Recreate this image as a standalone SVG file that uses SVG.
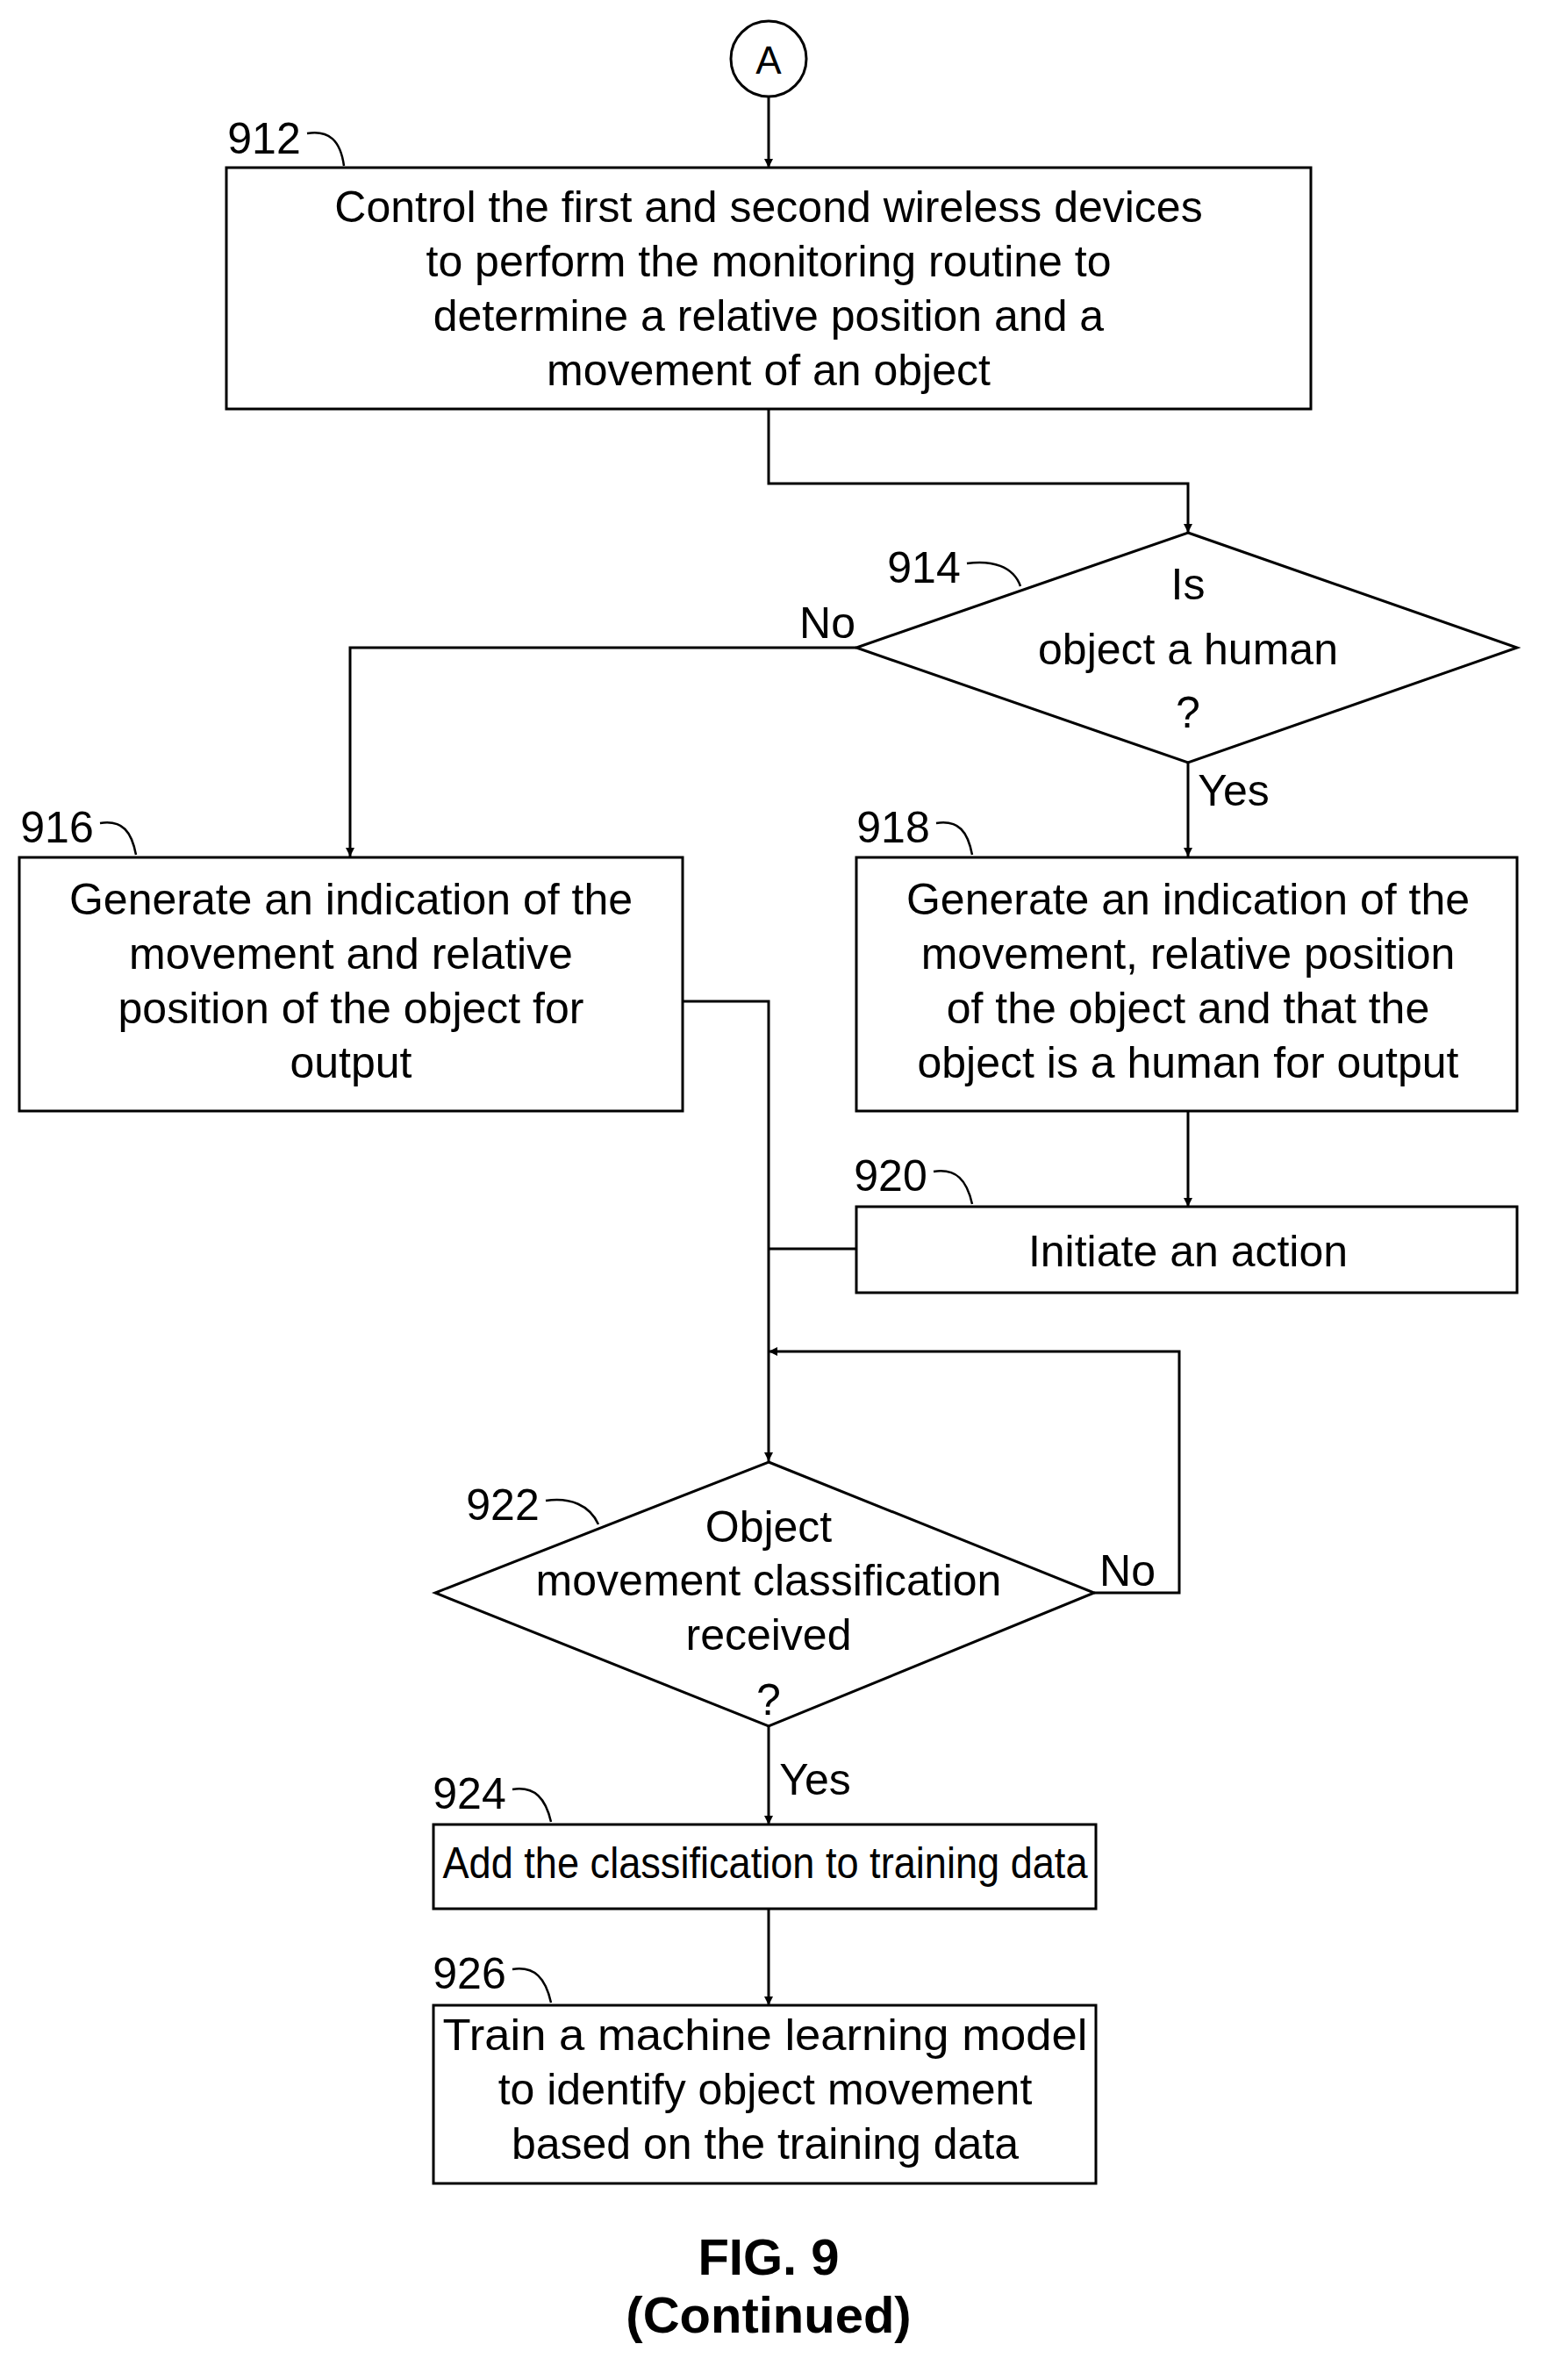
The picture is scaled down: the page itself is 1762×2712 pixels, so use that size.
<svg xmlns="http://www.w3.org/2000/svg" width="1762" height="2712" viewBox="0 0 1762 2712">
<defs>
<marker id="ah" viewBox="0 0 10 10" refX="10" refY="5" markerWidth="10" markerHeight="10" markerUnits="userSpaceOnUse" orient="auto"><path d="M0,0 L10,5 L0,10 z" fill="#000"/></marker>
<style>
.s{fill:#fff;stroke:#000;stroke-width:3}
.c{fill:none;stroke:#000;stroke-width:3}
.l{fill:none;stroke:#000;stroke-width:2.5}
text{font-family:"Liberation Sans",Arial,sans-serif;font-size:50px;fill:#000}
.m{text-anchor:middle}
.f{font-weight:bold;font-size:58px;text-anchor:middle}
</style>
</defs>
<rect width="1762" height="2712" fill="#fff"/>
<g id="connectors">
<path class="c" d="M876,110 V191" marker-end="url(#ah)"/>
<path class="c" d="M876,466 V551 H1354 V607" marker-end="url(#ah)"/>
<path class="c" d="M976,738 H399 V976" marker-end="url(#ah)"/>
<path class="c" d="M1354,869 V976" marker-end="url(#ah)"/>
<path class="c" d="M1354,1266 V1375" marker-end="url(#ah)"/>
<path class="c" d="M778,1141 H876 V1665" marker-end="url(#ah)"/>
<path class="c" d="M976,1423 H876"/>
<path class="c" d="M1247,1815 H1344 V1540 H876" marker-end="url(#ah)"/>
<path class="c" d="M876,1967 V2079" marker-end="url(#ah)"/>
<path class="c" d="M876,2175 V2285" marker-end="url(#ah)"/>
<text x="943" y="727" class="m">No</text>
<text x="1406" y="918" class="m">Yes</text>
<text x="1285" y="1807" class="m">No</text>
<text x="929" y="2045" class="m">Yes</text>
</g>
<g id="A"><circle cx="876" cy="67" r="43" class="s"/><text x="876" y="84" class="m" style="font-size:44px">A</text></g>
<g id="n912">
<rect x="258" y="191" width="1236" height="275" class="s"/>
<text x="876" y="253" class="m">Control the first and second wireless devices</text>
<text x="876" y="315" class="m">to perform the monitoring routine to</text>
<text x="876" y="377" class="m">determine a relative position and a</text>
<text x="876" y="439" class="m">movement of an object</text>
<text x="301" y="175" class="m">912</text>
<path class="l" d="M350,152 C375,148 388,160 392,189"/>
</g>
<g id="n914">
<polygon points="1354,607 1729,738 1354,869 976,738" class="s"/>
<text x="1354" y="683" class="m">Is</text>
<text x="1354" y="757" class="m">object a human</text>
<text x="1354" y="829" class="m">?</text>
<text x="1053" y="664" class="m">914</text>
<path class="l" d="M1102,642 C1130,638 1155,645 1163,668"/>
</g>
<g id="n916">
<rect x="22" y="977" width="756" height="289" class="s"/>
<text x="400" y="1042" class="m">Generate an indication of the</text>
<text x="400" y="1104" class="m">movement and relative</text>
<text x="400" y="1166" class="m">position of the object for</text>
<text x="400" y="1228" class="m">output</text>
<text x="65" y="960" class="m">916</text>
<path class="l" d="M114,938 C140,934 150,948 155,974"/>
</g>
<g id="n918">
<rect x="976" y="977" width="753" height="289" class="s"/>
<text x="1354" y="1042" class="m">Generate an indication of the</text>
<text x="1354" y="1104" class="m">movement, relative position</text>
<text x="1354" y="1166" class="m">of the object and that the</text>
<text x="1354" y="1228" class="m">object is a human for output</text>
<text x="1018" y="960" class="m">918</text>
<path class="l" d="M1067,938 C1093,934 1103,948 1108,974"/>
</g>
<g id="n920">
<rect x="976" y="1375" width="753" height="98" class="s"/>
<text x="1354" y="1443" class="m">Initiate an action</text>
<text x="1015" y="1357" class="m">920</text>
<path class="l" d="M1064,1335 C1090,1331 1102,1345 1108,1372"/>
</g>
<g id="n922">
<polygon points="876,1666 1247,1815 876,1967 496,1815" class="s"/>
<text x="876" y="1757" class="m">Object</text>
<text x="876" y="1818" class="m">movement classification</text>
<text x="876" y="1880" class="m">received</text>
<text x="876" y="1954" class="m">?</text>
<text x="573" y="1732" class="m">922</text>
<path class="l" d="M622,1710 C650,1706 672,1715 682,1737"/>
</g>
<g id="n924">
<rect x="494" y="2079" width="755" height="96" class="s"/>
<text x="872" y="2140" class="m" textLength="735" lengthAdjust="spacingAndGlyphs">Add the classification to training data</text>
<text x="535" y="2061" class="m">924</text>
<path class="l" d="M584,2039 C610,2035 622,2050 628,2076"/>
</g>
<g id="n926">
<rect x="494" y="2285" width="755" height="203" class="s"/>
<text x="872" y="2336" class="m" textLength="735" lengthAdjust="spacingAndGlyphs">Train a machine learning model</text>
<text x="872" y="2398" class="m">to identify object movement</text>
<text x="872" y="2460" class="m">based on the training data</text>
<text x="535" y="2266" class="m">926</text>
<path class="l" d="M584,2244 C610,2240 622,2255 628,2282"/>
</g>
<g id="caption">
<text x="876" y="2592" class="f">FIG. 9</text>
<text x="876" y="2658" class="f">(Continued)</text>
</g>
</svg>
